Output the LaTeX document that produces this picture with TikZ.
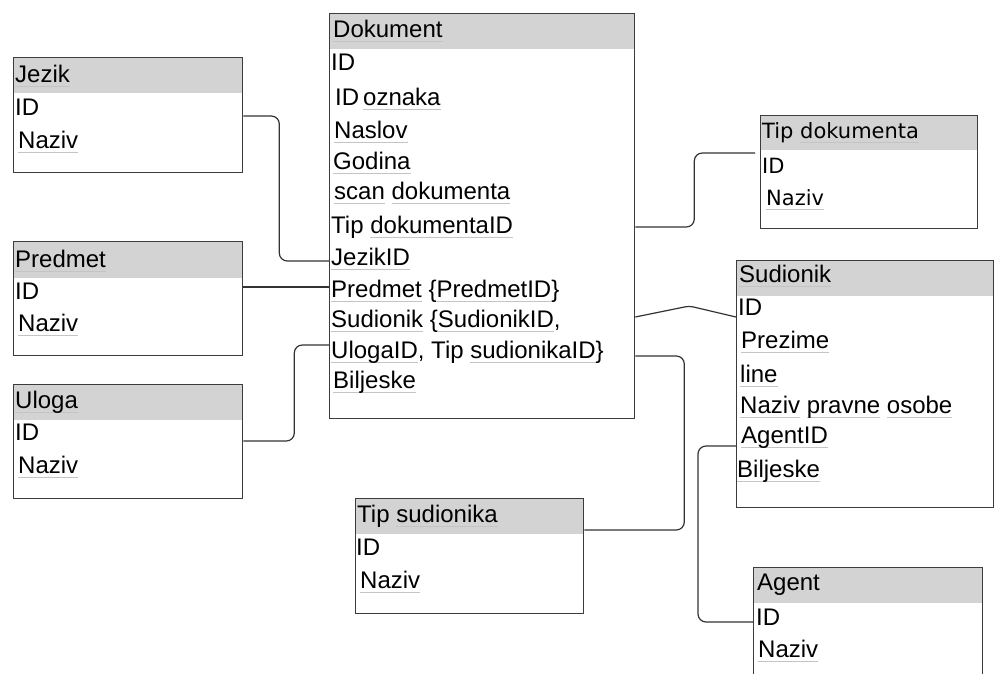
\documentclass[tikz,border=0pt]{standalone}
\usepackage{fontspec}
\setmainfont{Liberation Sans}
\newfontfamily\dvs{DejaVu Sans}
\usetikzlibrary{calc}
\definecolor{hdr}{HTML}{D3D3D3}
\definecolor{bord}{HTML}{3C3C3C}
\definecolor{sqg}{HTML}{C4C4C4}
\definecolor{conncol}{HTML}{333333}
\newcommand\sq[1]{\setbox0\hbox{#1}\rlap{\color{sqg}\rule[-4.5pt]{\wd0}{1pt}}\box0\relax}
\begin{document}
\begin{tikzpicture}[x=1pt,y=-1pt,
 tbl/.style={draw=bord,line width=1.3pt,anchor=north west,inner sep=0pt},
 hd/.style={fill=hdr,anchor=north west,inner sep=0pt},
 row/.style={anchor=base west,inner sep=0pt,font=\fontsize{24}{28}\selectfont},
 tdrow/.style={anchor=base west,inner sep=0pt,font=\dvs\fontsize{21}{25}\selectfont},
 conn/.style={draw=conncol,line width=1.2pt,rounded corners=8pt}]
\useasboundingbox (0,0) rectangle (994,673);
\clip (0,0) rectangle (994,673);
\fill[white] (0,0) rectangle (994,673);

% ---------- Jezik
\node[hd,minimum width=229pt,minimum height=36pt] (jezik-h) at (13,57) {};
\node[tbl,minimum width=229pt,minimum height=115pt] (jezik) at (13,57) {};
\node[row] (jezik-t) at (15,82) {\sq{Jezik}};
\node[row] (jezik-id) at (15,115) {ID};
\node[row] (jezik-n) at (18,148) {\sq{Naziv}};

% ---------- Predmet
\node[hd,minimum width=229pt,minimum height=37pt] (predmet-h) at (13,241) {};
\node[tbl,minimum width=229pt,minimum height=114pt] (predmet) at (13,241) {};
\node[row] (predmet-t) at (15,267) {\sq{Predmet}};
\node[row] (predmet-id) at (15,299) {ID};
\node[row] (predmet-n) at (18,331) {\sq{Naziv}};

% ---------- Uloga
\node[hd,minimum width=229pt,minimum height=36pt] (uloga-h) at (13,384) {};
\node[tbl,minimum width=229pt,minimum height=114pt] (uloga) at (13,384) {};
\node[row] (uloga-t) at (15,408) {\sq{Uloga}};
\node[row] (uloga-id) at (15,440) {ID};
\node[row] (uloga-n) at (18,473) {\sq{Naziv}};

% ---------- Dokument
\node[hd,minimum width=305pt,minimum height=36pt] (dok-h) at (329,13) {};
\node[tbl,minimum width=305pt,minimum height=405pt] (dok) at (329,13) {};
\node[row] (dok-t) at (333,37) {\sq{Dokument}};
\node[row] (dok-1) at (331,70) {ID};
\node[row] (dok-2) at (335,105) {ID\,\sq{oznaka}};
\node[row] (dok-3) at (334,138) {\sq{Naslov}};
\node[row] (dok-4) at (333,169) {\sq{Godina}};
\node[row] (dok-5) at (334,199) {\sq{scan} \sq{dokumenta}};
\node[row] (dok-6) at (331,233) {Tip \sq{dokumentaID}};
\node[row] (dok-7) at (331,265) {\sq{JezikID}};
\node[row] (dok-8) at (331,297) {\sq{Predmet} \{\sq{PredmetID}\}};
\node[row] (dok-9) at (331,327) {\sq{Sudionik} \{\sq{SudionikID},};
\node[row] (dok-10) at (331,358) {\sq{UlogaID}, Tip \sq{sudionikaID}\}};
\node[row] (dok-11) at (333,388) {\sq{Biljeske}};

% ---------- Tip dokumenta
\node[hd,minimum width=217pt,minimum height=35pt] (tipdok-h) at (760,115) {};
\node[tbl,minimum width=217pt,minimum height=113pt] (tipdok) at (760,115) {};
\node[tdrow] (tipdok-t) at (762,138) {Tip \sq{dokumenta}};
\node[tdrow] (tipdok-id) at (762,173) {ID};
\node[tdrow] (tipdok-n) at (766,205) {\sq{Naziv}};

% ---------- Sudionik
\node[hd,minimum width=257pt,minimum height=36pt] (sud-h) at (736,260) {};
\node[tbl,minimum width=257pt,minimum height=247pt] (sud) at (736,260) {};
\node[row] (sud-t) at (739,282) {\sq{Sudionik}};
\node[row] (sud-1) at (738,315) {ID};
\node[row] (sud-2) at (741,348) {\sq{Prezime}};
\node[row] (sud-3) at (740,382) {\sq{line}};
\node[row] (sud-4) at (740,413) {\sq{Naziv} \sq{pravne} \sq{osobe}};
\node[row] (sud-5) at (741,443) {\sq{AgentID}};
\node[row] (sud-6) at (737,477) {\sq{Biljeske}};

% ---------- Tip sudionika
\node[hd,minimum width=228pt,minimum height=36pt] (tipsud-h) at (355,498) {};
\node[tbl,minimum width=228pt,minimum height=115pt] (tipsud) at (355,498) {};
\node[row] (tipsud-t) at (357,522) {Tip \sq{sudionika}};
\node[row] (tipsud-id) at (356,555) {ID};
\node[row] (tipsud-n) at (360,588) {\sq{Naziv}};

% ---------- Agent
\node[hd,minimum width=229pt,minimum height=36pt] (agent-h) at (753,567) {};
\node[tbl,minimum width=229pt,minimum height=130pt] (agent) at (753,567) {};
\node[row] (agent-t) at (757,590) {Agent};
\node[row] (agent-id) at (756,625) {ID};
\node[row] (agent-n) at (758,657) {\sq{Naziv}};

% ---------- connectors
\draw[conn] ($(jezik.north east)+(0,59)$) -- ++(36,0) |- ($(dok.north west)+(0,248)$);
\draw[conn] ($(predmet.north east)+(0,46)$) -- ($(dok.north west)+(0,274)$);
\draw[conn] ($(uloga.north east)+(0,57)$) -- ++(51,0) |- ($(dok.north west)+(0,332)$);
\draw[conn] ($(dok.north east)+(0,214)$) -- ++(59,0) |- ($(tipdok.north west)+(-5,38)$);
\draw[conn,rounded corners=4pt] ($(dok.north east)+(0,304)$) -- ++(54,-11) -- ($(sud.north west)+(0,57)$);
\draw[conn] ($(dok.north east)+(0,343)$) -- ++(49,0) |- ($(tipsud.north east)+(0,32)$);
\draw[conn] ($(sud.north west)+(0,186)$) -- ++(-38,0) |- ($(agent.north west)+(0,55)$);
\end{tikzpicture}
\end{document}
